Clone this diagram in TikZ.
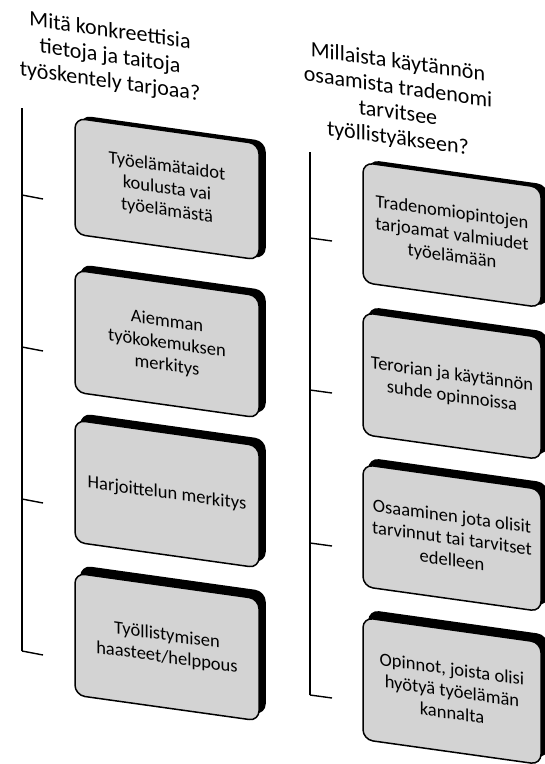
\documentclass[tikz,border=0pt]{standalone}
\usepackage{fontspec}
\setmainfont{Carlito}
\usepackage{xcolor}
\definecolor{cardgray}{HTML}{D3D3D3}
\newcommand{\cardfont}{\fontsize{18.5}{22}\selectfont}
\newcommand{\headfont}{\fontsize{22}{25.5}\selectfont}
\begin{document}
\begin{tikzpicture}[x=1pt,y=-1pt,
  card/.style={draw=black,line width=1.5pt,fill=cardgray,rounded corners=10pt,
    minimum width=184pt,minimum height=122pt,inner sep=0pt,align=center,
    font=\cardfont,yslant=-0.14},
  cardback/.style={card,fill=black},
  heading/.style={inner sep=0pt,align=center,font=\headfont,yslant=-0.14}]
\useasboundingbox (0,0) rectangle (545,764);
\node[heading] (lhead) at (110,57) {Mitä konkreettisia\\tietoja ja taitoja\\työskentely tarjoaa?};
\node[heading] (rhead) at (398,101) {Millaista käytännön\\osaamista tradenomi\\tarvitsee\\työllistyäkseen?};
%-------------
\node[cardback,minimum height=116pt] (l1b) at (173,187) {};
\node[card,minimum height=116pt] (l1) at (167,189) {Työelämätaidot\\koulusta vai\\työelämästä};
\node[cardback] (l2b) at (173,339) {};
\node[card] (l2) at (167,344) {Aiemman\\työkokemuksen\\merkitys};
\node[cardback] (l3b) at (173,488) {};
\node[card] (l3) at (167,494) {Harjoittelun merkitys};
\node[cardback] (l4b) at (173,640) {};
\node[card] (l4) at (167,647) {Työllistymisen\\haasteet/helppous};
%-------------
\node[cardback,minimum width=178pt,minimum height=120pt] (r1b) at (458,233) {};
\node[card,minimum width=178pt,minimum height=120pt] (r1) at (452,235) {Tradenomiopintojen\\tarjoamat valmiudet\\työelämään};
\node[cardback,minimum width=178pt] (r2b) at (458,381) {};
\node[card,minimum width=178pt] (r2) at (452,386) {Terorian ja käytännön\\suhde opinnoissa};
\node[cardback,minimum width=178pt] (r3b) at (458,532) {};
\node[card,minimum width=178pt] (r3) at (452,538) {Osaaminen jota olisit\\tarvinnut tai tarvitset\\edelleen};
\node[cardback,minimum width=178pt] (r4b) at (458,684) {};
\node[card,minimum width=178pt] (r4) at (452,691) {Opinnot, joista olisi\\hyötyä työelämän\\kannalta};
%-------------
\coordinate (ltop) at (22,108);
\coordinate (rtop) at (310,152);
\foreach \y/\n in {195/1,347/2,499/3,651/4}{
  \coordinate (lj\n) at (22,\y);
  \coordinate (lk\n) at (43,\y+4);
  \draw[line width=1.4pt] (lj\n) -- (lk\n);}
\foreach \y/\n in {238/1,390/2,543/3,695/4}{
  \coordinate (rj\n) at (310,\y);
  \coordinate (rk\n) at (332,\y+3);
  \draw[line width=1.4pt] (rj\n) -- (rk\n);}
\draw[line width=1.4pt] (ltop) -- (lj4);
\draw[line width=1.4pt] (rtop) -- (rj4);
\end{tikzpicture}
\end{document}
